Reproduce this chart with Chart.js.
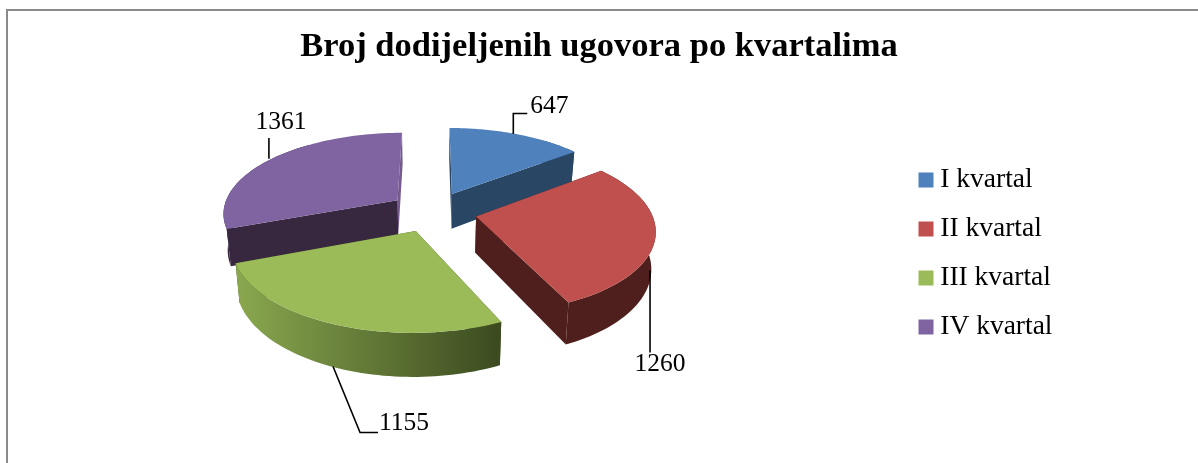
<!DOCTYPE html>
<html>
<head>
<meta charset="utf-8">
<title>Broj dodijeljenih ugovora po kvartalima</title>
<script src="https://cdn.jsdelivr.net/npm/chart.js@4"></script>
<style>
  html, body { margin: 0; background: #fff; overflow: hidden; }
  #wrap { position: relative; width: 1198px; height: 463px; }
  #frame { position: absolute; left: 6px; top: 9px; right: 0; bottom: 0; border-left: 2px solid #8a8a8a; border-top: 2px solid #8a8a8a; }
  canvas { position: absolute; left: 0; top: 0; }
</style>
</head>
<body>
<div id="wrap">
  <div id="frame"></div>
  <canvas id="chart" width="1198" height="463"></canvas>
</div>
<script>
const TITLE = 'Broj dodijeljenih ugovora po kvartalima';
const CATEGORIES = ['I kvartal', 'II kvartal', 'III kvartal', 'IV kvartal'];
const VALUES = [647, 1260, 1155, 1361];

const FONT = "'Liberation Serif', 'Times New Roman', serif";
const TOP_COLORS = ['#4f81bd', '#c0504d', '#9bbb59', '#8064a2'];
const WALL_COLORS = ['#2a4665', '#4f1f1d', '#8aa84f', '#37273f'];
const RIM_END_COLORS = ['#2a4665', '#4f1f1d', '#3b4a1f', '#37273f'];
const END_CUT_COLORS = ['#2a4665', '#4f1f1d', '#3b4a1f', '#75598f'];

// pie projection, fitted to the picture
const PIE_CENTER = { x: 433, y: 211.5 };
const PIE_RADIUS = 175;
const EXPLODE = 44;
const TILT = 0.46;
const PERSPECTIVE = 0.148;
const DEPTH = 36;
const BOTTOM_SHRINK = 0.98;
const PAINT_ORDER = [3, 0, 1, 2];

// leader lines are relative to the slice's mid rim point
const LABELS = [
  { wall: false, leader: [[-3, 0], [-3, -20.6], [11, -20.6]], text: [14, -28], align: 'left' },
  { wall: true, leader: [[-1, -4], [-1, 78]], text: [9, 90], align: 'center' },
  { wall: true, leader: [[-2, -1], [25, 65], [43, 65]], text: [44, 56], align: 'left' },
  { wall: false, leader: [[-1, -1], [-1, -21.6]], text: [11, -37], align: 'center' }
];

function projector(arc) {
  const mid = (arc.startAngle + arc.endAngle) / 2;
  const offset = arc.options.offset;
  const r = arc.outerRadius;

  return (angle, radiusPart, bottom) => {
    // position on the flat disk, explode offset included
    const u = (r * radiusPart * Math.cos(angle) + offset * Math.cos(mid)) / r;
    const v = (r * radiusPart * Math.sin(angle) + offset * Math.sin(mid)) / r;
    const s = 1 / (1 - PERSPECTIVE * v);
    const x = r * u * s;
    const y = arc.y + r * TILT * v * s;
    if (!bottom) {
      return { x: arc.x + x, y };
    }
    return {
      x: arc.x + x * BOTTOM_SHRINK,
      y: y + DEPTH * s
    };
  };
}

function tracePath(ctx, points) {
  ctx.beginPath();
  points.forEach((p, i) => (i ? ctx.lineTo(p.x, p.y) : ctx.moveTo(p.x, p.y)));
  ctx.closePath();
}

function rimAngles(arc) {
  const angles = [];
  const steps = 60;
  for (let i = 0; i <= steps; i++) {
    angles.push(arc.startAngle + ((arc.endAngle - arc.startAngle) * i) / steps);
  }
  return angles;
}

function drawCutWall(ctx, project, angle, color) {
  ctx.fillStyle = color;
  tracePath(ctx, [project(angle, 0), project(angle, 1), project(angle, 1, true), project(angle, 0, true)]);
  ctx.fill();
}

function drawSlice(ctx, arc, index) {
  const project = projector(arc);
  const angles = rimAngles(arc);

  drawCutWall(ctx, project, arc.endAngle, END_CUT_COLORS[index]);
  drawCutWall(ctx, project, arc.startAngle, RIM_END_COLORS[index]);

  // outer wall, the back of the rim never shows
  const wallAngles = angles.filter((a) => Math.sin(a) > -0.8);
  const wallTop = wallAngles.map((a) => project(a, 1));
  const wallBottom = wallAngles.map((a) => project(a, 1, true)).reverse();
  const xs = wallTop.map((p) => p.x);
  const gradient = ctx.createLinearGradient(Math.min(...xs), 0, Math.max(...xs), 0);
  gradient.addColorStop(0, WALL_COLORS[index]);
  gradient.addColorStop(1, RIM_END_COLORS[index]);
  ctx.fillStyle = gradient;
  tracePath(ctx, wallTop.concat(wallBottom));
  ctx.fill();

  // top face
  ctx.fillStyle = TOP_COLORS[index];
  tracePath(ctx, [project(arc.startAngle, 0)].concat(angles.map((a) => project(a, 1))));
  ctx.fill();
}

function drawLabel(ctx, arc, index) {
  const project = projector(arc);
  const mid = (arc.startAngle + arc.endAngle) / 2;
  const label = LABELS[index];
  const anchor = project(mid, 1, label.wall);

  ctx.strokeStyle = '#000';
  ctx.lineWidth = 1.6;
  ctx.beginPath();
  label.leader.forEach(([dx, dy], i) => {
    const x = anchor.x + dx;
    const y = anchor.y + dy;
    if (i) {
      ctx.lineTo(x, y);
    } else {
      ctx.moveTo(x, y);
    }
  });
  ctx.stroke();

  ctx.fillStyle = '#000';
  ctx.font = `25.5px ${FONT}`;
  ctx.textAlign = label.align;
  ctx.textBaseline = 'middle';
  ctx.fillText(String(VALUES[index]), anchor.x + label.text[0], anchor.y + label.text[1]);
}

const pie3d = {
  id: 'pie3d',
  afterLayout(chart) {
    // the pie and the legend sit where the picture has them, not where the box layout would
    chart.chartArea.left = PIE_CENTER.x - 200;
    chart.chartArea.right = PIE_CENTER.x + 200;
    chart.chartArea.top = PIE_CENTER.y - 200;
    chart.chartArea.bottom = PIE_CENTER.y + 200;
    chart.chartArea.width = 400;
    chart.chartArea.height = 400;

    const legend = chart.legend;
    const w = legend.width;
    const h = legend.height;
    legend.left = 904;
    legend.right = 904 + w;
    legend.top = 22;
    legend.bottom = 22 + h;
  },
  beforeDatasetsDraw(chart) {
    const { ctx } = chart;
    const arcs = chart.getDatasetMeta(0).data;
    ctx.save();
    PAINT_ORDER.forEach((i) => drawSlice(ctx, arcs[i], i));
    arcs.forEach((arc, i) => drawLabel(ctx, arc, i));
    ctx.restore();
    return false;
  }
};

new Chart(document.getElementById('chart'), {
  type: 'pie',
  data: {
    labels: CATEGORIES,
    datasets: [{
      data: VALUES,
      backgroundColor: TOP_COLORS,
      borderWidth: 0,
      offset: EXPLODE,
      hoverOffset: 0,
      radius: PIE_RADIUS
    }]
  },
  options: {
    responsive: false,
    animation: false,
    events: [],
    plugins: {
      title: {
        display: true,
        text: TITLE,
        color: '#000',
        font: { family: FONT, size: 34.5, weight: 'bold', lineHeight: 1.2 },
        padding: { top: 26, bottom: 10 }
      },
      legend: {
        position: 'right',
        labels: {
          color: '#000',
          font: { family: FONT, size: 27.5, lineHeight: 1 },
          usePointStyle: true,
          pointStyle: 'rect',
          boxWidth: 1,
          boxHeight: 15,
          padding: 21.5
        }
      },
      tooltip: { enabled: false }
    }
  },
  plugins: [pie3d]
});
</script>
</body>
</html>
